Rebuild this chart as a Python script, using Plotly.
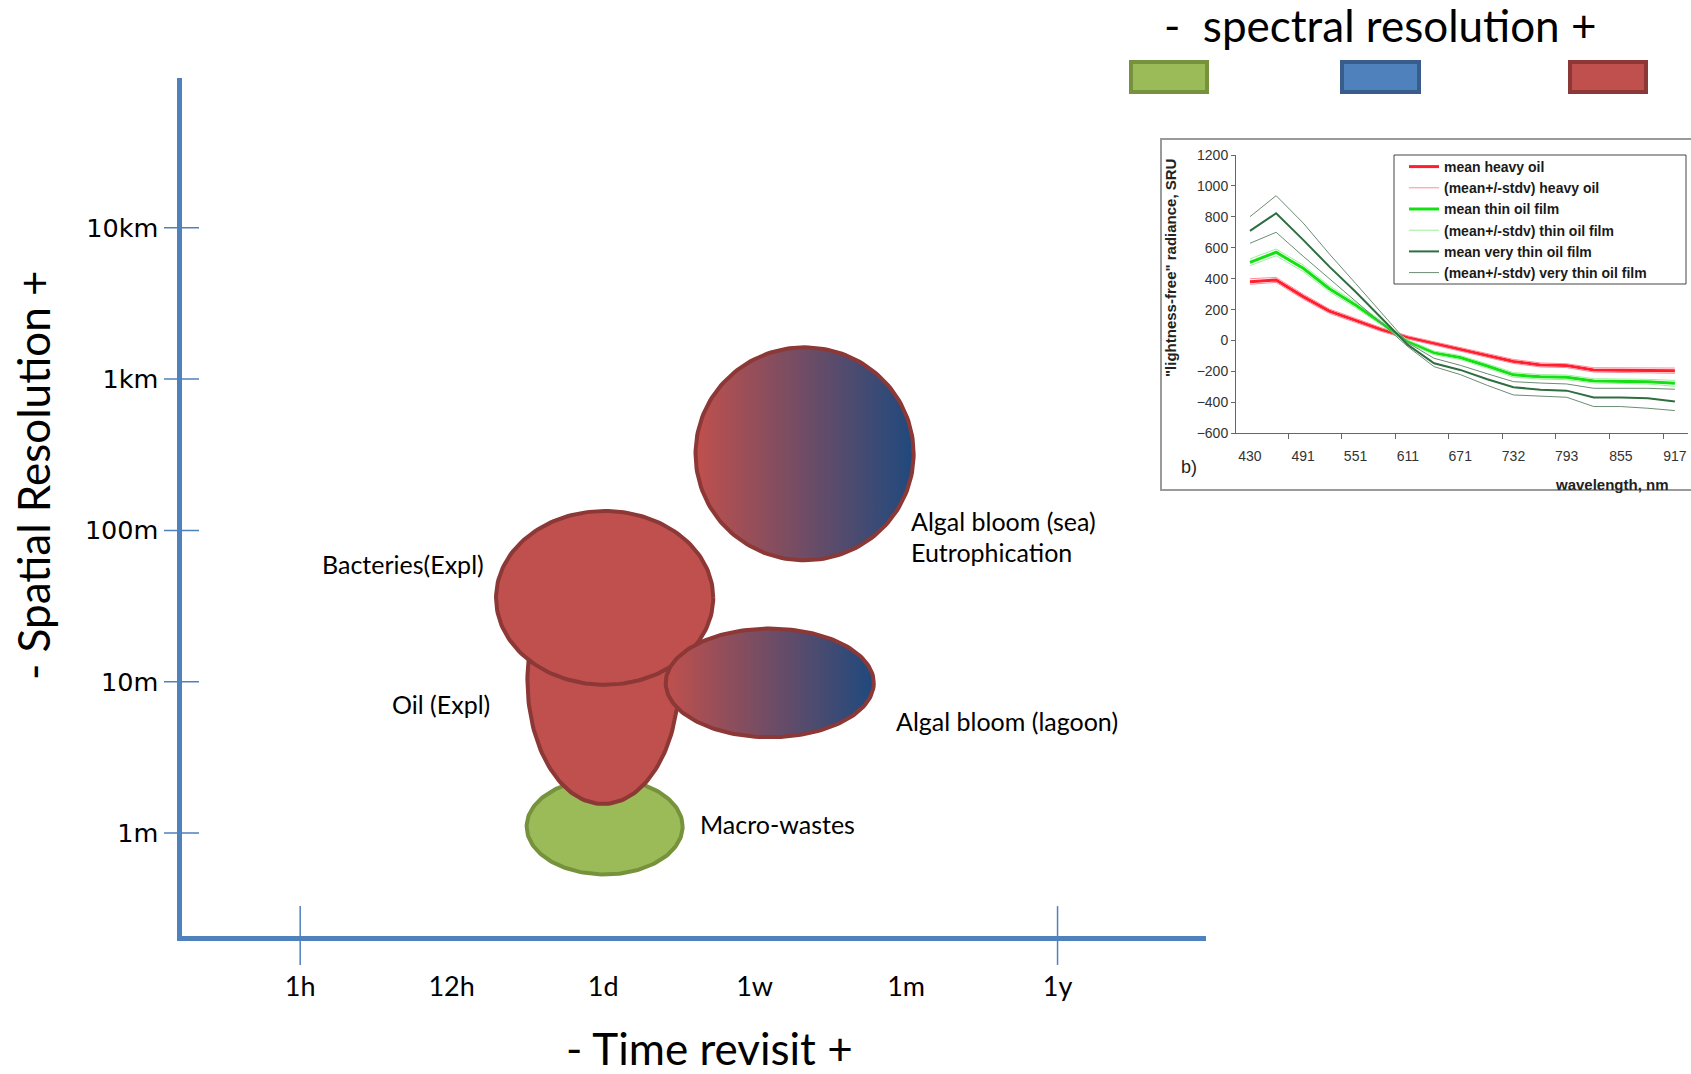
import numpy as np
import plotly.graph_objects as go

# ---------------- main diagram data ----------------
time_labels = ["1h", "12h", "1d", "1w", "1m", "1y"]
time_positions = [0, 1, 2, 3, 4, 5]
time_tick_marks = ["1h", "1y"]
res_labels = ["1m", "10m", "100m", "1km", "10km"]
res_positions = [0, 1, 2, 3, 4]          # log10(metres)

zone_names = ["Macro-wastes", "Oil (Expl)", "Bacteries(Expl)", "Algal bloom (lagoon)", "Algal bloom (sea)"]
zone_time_center = [2.01, 2.00, 2.01, 3.10, 3.33]
zone_time_half = [0.515, 0.50, 0.717, 0.687, 0.72]
zone_res_center = [0.043, 1.012, 1.554, 0.992, 2.506]
zone_res_half = [0.317, 0.82, 0.574, 0.359, 0.704]
zone_spectral = ["low", "high", "high", "mixed", "mixed"]

spectral_levels = ["low", "mid", "high"]

# ---------------- inset spectra data ----------------
wavelength = [430, 460, 491, 521, 551, 581, 611, 641, 671, 702, 732, 763, 793, 824, 855, 886, 917]
wl_ticks = [430, 491, 551, 611, 671, 732, 793, 855, 917]
wl_minor = [474, 535, 597, 658, 719, 780, 842, 904]
heavy_mean = [381, 392, 284, 190, 130, 70, 20, -18, -55, -98, -135, -158, -162, -190, -192, -192, -195]
heavy_upper = [400, 408, 300, 204, 143, 82, 30, -8, -44, -86, -122, -145, -150, -176, -176, -176, -178]
heavy_lower = [364, 376, 268, 176, 117, 58, 10, -28, -66, -110, -148, -171, -175, -204, -208, -208, -212]
thin_mean = [506, 571, 467, 335, 230, 112, -7, -80, -110, -165, -222, -235, -238, -261, -262, -266, -277]
thin_upper = [528, 592, 488, 354, 247, 126, 3, -68, -97, -151, -207, -220, -223, -247, -248, -251, -258]
thin_lower = [484, 548, 446, 316, 213, 98, -17, -92, -123, -179, -237, -250, -253, -275, -277, -281, -296]
vthin_mean = [709, 823, 651, 478, 316, 146, -28, -147, -190, -250, -302, -318, -324, -369, -369, -374, -395]
vthin_upper = [801, 937, 760, 560, 370, 180, -15, -115, -160, -215, -266, -275, -281, -309, -309, -309, -315]
vthin_lower = [629, 700, 545, 400, 260, 110, -40, -169, -220, -290, -352, -360, -367, -427, -427, -438, -453]

# ---------------- styles ----------------
W, H = 1691, 1074
AXIS_BLUE = "#4F81BD"
RED, RED_EDGE = "#C0504D", "#8C3836"
BLUE, BLUE_EDGE = "#4F81BD", "#385D8A"
GREEN, GREEN_EDGE = "#9BBB59", "#76923C"
DARK_BLUE = "#1F497D"
LABEL_FONT = "Lato, 'Open Sans', sans-serif"
ARIAL = "'Liberation Sans', Arial, sans-serif"

fill_style = {
    "low": dict(fillcolor=GREEN, line=dict(color=GREEN_EDGE, width=4)),
    "high": dict(fillcolor=RED, line=dict(color=RED_EDGE, width=4)),
    "mixed": dict(fillgradient=dict(type="horizontal", colorscale=[[0, RED], [1, DARK_BLUE]]),
                  line=dict(color=RED_EDGE, width=4)),
}

fig = go.Figure()

t = np.linspace(0, 2 * np.pi, 181)
for name, cx, rx, cy, ry, sp in zip(zone_names, zone_time_center, zone_time_half,
                                      zone_res_center, zone_res_half, zone_spectral):
    xs = cx + rx * np.cos(t)
    ys = cy + ry * np.sin(t)
    fig.add_trace(go.Scatter(x=xs, y=ys, mode="lines", fill="toself", name=name,
                             showlegend=False, hoverinfo="skip", xaxis="x", yaxis="y",
                             **fill_style[sp]))

# axis extents (data units) of the main diagram
x_left, x_right = -0.8, 5.98
y_bottom, y_top = -0.694, 4.99
# plotly draws the axis line just outside the domain -> shift domain by half the line width
LW = 5
px_per_x = 1027 / (x_right - x_left)
px_per_y = 860 / (y_top - y_bottom)
x_left_dom = x_left + (LW / 2) / px_per_x
y_bottom_dom = y_bottom + (LW / 2) / px_per_y

# crossing tick marks on the main axes
fig.add_trace(go.Scatter(x=[x_left_dom] * len(res_positions), y=res_positions, mode="markers",
                         marker=dict(symbol="line-ew", size=25, line=dict(color=AXIS_BLUE, width=1.5)),
                         showlegend=False, hoverinfo="skip", cliponaxis=False, xaxis="x", yaxis="y"))
fig.add_trace(go.Scatter(x=[time_positions[time_labels.index(l)] for l in time_tick_marks],
                         y=[y_bottom_dom] * len(time_tick_marks), mode="markers",
                         marker=dict(symbol="line-ns", size=42, line=dict(color=AXIS_BLUE, width=1.5)),
                         showlegend=False, hoverinfo="skip", cliponaxis=False, xaxis="x", yaxis="y"))

# ---------------- inset traces ----------------
def band(up, lo):
    return wavelength + [None] + wavelength, up + [None] + lo

series = [
    ("mean heavy oil", wavelength, heavy_mean, "#FF1F2F", 3),
    ("(mean+/-stdv) heavy oil", *band(heavy_upper, heavy_lower), "#FF8C9A", 1),
    ("mean thin oil film", wavelength, thin_mean, "#14E014", 3),
    ("(mean+/-stdv) thin oil film", *band(thin_upper, thin_lower), "#9AF09A", 1),
    ("mean very thin oil film", wavelength, vthin_mean, "#2E6E40", 2),
    ("(mean+/-stdv) very thin oil film", *band(vthin_upper, vthin_lower), "#6C8C74", 1),
]
for name, xs, ys, col, w in series:
    fig.add_trace(go.Scatter(x=xs, y=ys, mode="lines", name=name, connectgaps=False,
                             line=dict(color=col, width=w), xaxis="x2", yaxis="y2"))

# ---------------- layout ----------------
def px_x(p):
    return p / W

def px_y(p):
    return 1 - p / H

fig.update_layout(
    width=W, height=H, margin=dict(l=0, r=0, t=0, b=0, pad=0, autoexpand=False),
    paper_bgcolor="white", plot_bgcolor="rgba(0,0,0,0)",
    xaxis=dict(domain=[px_x(179 + LW / 2), px_x(1206)], range=[x_left_dom, x_right], anchor="y",
               automargin=False,
               showline=True, linecolor=AXIS_BLUE, linewidth=LW, showgrid=False, zeroline=False,
               tickmode="array", tickvals=time_positions, ticktext=time_labels, ticks="",
               ticklabelstandoff=23, tickfont=dict(family=LABEL_FONT, size=27, color="black")),
    yaxis=dict(domain=[px_y(938 - LW / 2), px_y(78)], range=[y_bottom_dom, y_top], anchor="x",
               automargin=False,
               showline=True, linecolor=AXIS_BLUE, linewidth=LW, showgrid=False, zeroline=False,
               tickmode="array", tickvals=res_positions, ticktext=res_labels, ticks="",
               ticklabelstandoff=13,
               tickfont=dict(family="'DejaVu Sans', Verdana, sans-serif", size=25.5, color="black")),
    xaxis2=dict(domain=[px_x(1236), px_x(1688)], range=[414, 932], anchor="y2", automargin=False,
                showline=True, linecolor="#666", linewidth=1, showgrid=False, zeroline=False,
                tickmode="array", tickvals=wl_ticks, ticks="", ticklabelstandoff=10,
                tickfont=dict(family=ARIAL, size=14, color="#333"),
                minor=dict(tickmode="array", tickvals=wl_minor, ticks="outside", ticklen=5, tickcolor="#666")),
    yaxis2=dict(domain=[px_y(433.3), px_y(155)], range=[-600, 1200], anchor="x2", automargin=False,
                showline=True, linecolor="#666", linewidth=1, showgrid=False, zeroline=False,
                dtick=200, ticks="outside", ticklen=4, tickcolor="#666",
                tickfont=dict(family=ARIAL, size=14, color="#333")),
    legend=dict(x=px_x(1404), y=px_y(151), xanchor="left", yanchor="top",
                bgcolor="rgba(0,0,0,0)", borderwidth=0,
                font=dict(family=ARIAL, size=14, color="#1a1a1a", weight="bold"),
                itemwidth=30, tracegroupgap=0),
    showlegend=True,
)

annotations = []
# zone labels (anchored to the zone shapes)
label_spec = {
    "Algal bloom (sea)": (4.02, 2.063),
    "Bacteries(Expl)": (0.132, 1.779),
    "Oil (Expl)": (0.594, 0.853),
    "Algal bloom (lagoon)": (3.923, 0.740),
    "Macro-wastes": (2.629, 0.060),
}
for txt, (lx, ly) in label_spec.items():
    annotations.append(dict(x=lx, y=ly, xref="x", yref="y", text=txt, showarrow=False,
                            xanchor="left", yanchor="middle",
                            font=dict(family=LABEL_FONT, size=25, color="black")))
annotations.append(dict(x=4.02, y=1.858, xref="x", yref="y", text="Eutrophication", showarrow=False,
                        xanchor="left", yanchor="middle", font=dict(family=LABEL_FONT, size=25, color="black")))
# axis titles
annotations.append(dict(x=px_x(709), y=px_y(1048), xref="paper", yref="paper", text="- Time revisit +",
                        showarrow=False, xanchor="center", yanchor="middle",
                        font=dict(family=LABEL_FONT, size=44, color="black")))
annotations.append(dict(x=px_x(33), y=px_y(475), xref="paper", yref="paper", text="- Spatial Resolution +",
                        showarrow=False, xanchor="center", yanchor="middle", textangle=-90,
                        font=dict(family=LABEL_FONT, size=44, color="black")))
annotations.append(dict(x=px_x(1380), y=px_y(25), xref="paper", yref="paper", text="-  spectral resolution +",
                        showarrow=False, xanchor="center", yanchor="middle",
                        font=dict(family=LABEL_FONT, size=44, color="black")))
# inset texts
annotations.append(dict(x=px_x(1171), y=px_y(268), xref="paper", yref="paper",
                        text='"lightness-free" radiance, SRU', showarrow=False, textangle=-90,
                        xanchor="center", yanchor="middle",
                        font=dict(family=ARIAL, size=15, color="#222", weight="bold")))
annotations.append(dict(x=px_x(1612), y=px_y(484), xref="paper", yref="paper", text="wavelength, nm",
                        showarrow=False, xanchor="center", yanchor="middle",
                        font=dict(family=ARIAL, size=15, color="#222", weight="bold")))
annotations.append(dict(x=px_x(1189), y=px_y(467), xref="paper", yref="paper", text="b)",
                        showarrow=False, xanchor="center", yanchor="middle",
                        font=dict(family=ARIAL, size=18, color="#222")))
fig.update_layout(annotations=annotations)

# spectral-resolution swatches, inset frame and inset legend box
shapes = []
swatch_style = {"low": (GREEN, GREEN_EDGE), "mid": (BLUE, BLUE_EDGE), "high": (RED, RED_EDGE)}
swatch_x = {"low": (1131, 1207), "mid": (1342, 1419), "high": (1570, 1646)}
for lev in spectral_levels:
    fc, lc = swatch_style[lev]
    x0, x1 = swatch_x[lev]
    shapes.append(dict(type="rect", xref="paper", yref="paper", x0=px_x(x0), x1=px_x(x1),
                       y0=px_y(92), y1=px_y(62), fillcolor=fc, line=dict(color=lc, width=4)))
shapes.append(dict(type="rect", xref="paper", yref="paper", x0=px_x(1161), x1=px_x(1700),
                   y0=px_y(490), y1=px_y(139), line=dict(color="#9a9a9a", width=2)))
shapes.append(dict(type="rect", xref="paper", yref="paper", x0=px_x(1394), x1=px_x(1686),
                   y0=px_y(284), y1=px_y(155), fillcolor="white", line=dict(color="#444", width=1)))
fig.update_layout(shapes=shapes)

fig.write_html("out.html", config={"displayModeBar": False},
               post_script="document.body.style.margin='0';document.body.style.overflow='hidden';")
